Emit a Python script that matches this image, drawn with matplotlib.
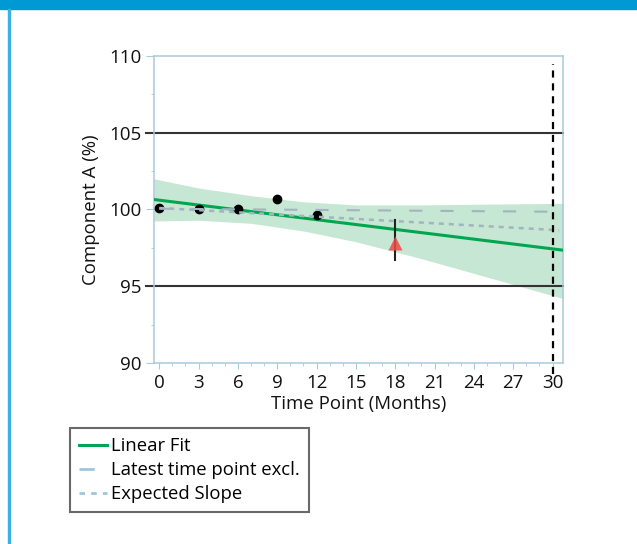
import numpy as np
import matplotlib
matplotlib.use('Agg')
import matplotlib.pyplot as plt
from matplotlib.lines import Line2D
from matplotlib.patches import Rectangle

plt.rcParams['font.family'] = ['Open Sans', 'DejaVu Sans']

# measured results
months = [0, 3, 6, 9, 12]
component_a = [100.1, 100.05, 100.0, 100.7, 99.65]
latest_month = 18
latest_value = 98.0
latest_err = [96.7, 99.3]

# linear fit and its confidence band
fit_x = [-0.4, 30.8]
fit_y = [100.65, 97.35]
band_x = [-0.4, 3, 7, 11, 15, 20, 25, 30.8]
band_hi = [102.0, 101.4, 100.9, 100.5, 100.3, 100.3, 100.35, 100.4]
band_lo = [99.25, 99.3, 99.1, 98.6, 97.9, 96.8, 95.6, 94.2]

# other reference lines
excl_x = [0, 30.8]
excl_y = [100.05, 99.85]
slope_x = [0, 30.5]
slope_y = [100.1, 98.65]
spec_limits = [95, 105]
shelf_life = 30

xticks = [0, 3, 6, 9, 12, 15, 18, 21, 24, 27, 30]
yticks = [90, 95, 100, 105, 110]

green = '#00a650'
band_col = '#c6e7d3'
dash_col = '#a4b3c0'
frame_col = '#a9c9dc'

fig = plt.figure(figsize=(6.37, 5.44), dpi=100)
W, H = 637, 544

# page decoration
fig.patches.append(Rectangle((0, 1 - 9 / H), 1, 9 / H, transform=fig.transFigure,
                             color='#0099d3', zorder=0))
fig.patches.append(Rectangle((8 / W, 0), 2 / W, 1 - 9 / H, transform=fig.transFigure,
                             color='#3db0e3', zorder=0))

ax = fig.add_axes([154 / W, 1 - 363 / H, (563 - 154) / W, (363 - 56) / H])

ax.fill_between(band_x, band_lo, band_hi, color=band_col, lw=0, zorder=1)
ax.plot(fit_x, fit_y, color=green, lw=2.2, zorder=3)
ax.plot(months, component_a, 'o', color='black', ms=6, zorder=4)
ax.plot(excl_x, excl_y, color=dash_col, lw=1.5, dashes=(6.3, 8.7), zorder=5)
ax.plot(slope_x, slope_y, color=dash_col, lw=1.8, dashes=(2, 2), zorder=5)

ax.plot([latest_month, latest_month], latest_err, color='#222222', lw=1.5, zorder=4)
ax.plot(latest_month, latest_value - 0.15, '^', color='#ee4a45', ms=10, alpha=0.85,
        mec='none', zorder=5)

for lim in spec_limits:
    ax.plot([-1.0, 30.8], [lim, lim], color='#333333', lw=1.5, clip_on=False, zorder=2)
ax.plot([shelf_life, shelf_life], [89.3, 109.5], color='black', lw=1.6,
        dashes=(3.2, 2.6), clip_on=False, zorder=6)

ax.set_xlim(-0.4, 30.8)
ax.set_ylim(90, 110)
ax.set_xticks(xticks)
ax.set_xticks(np.arange(0, 31, 1), minor=True)
ax.set_yticks(yticks)
ax.set_yticks([92.5, 97.5, 102.5, 107.5], minor=True)

for s in ax.spines.values():
    s.set_color(frame_col)
    s.set_linewidth(1.1)

ax.tick_params(axis='both', which='major', direction='out', color=frame_col,
               labelsize=13.5, labelcolor='#111111')
ax.tick_params(axis='x', which='major', length=4, pad=4)
ax.tick_params(axis='y', which='major', length=6, pad=3)
ax.tick_params(axis='both', which='minor', direction='out', color=frame_col, length=2.5)

ax.set_xlabel('Time Point (Months)', fontsize=13.4, labelpad=2, color='#111111')
ax.set_ylabel('Component A (%)', fontsize=13.4, labelpad=7, color='#111111')

handles = [
    Line2D([], [], color=green, lw=2.2),
    Line2D([], [], color='#9ec6dc', lw=2, dashes=(5.5, 10)),
    Line2D([], [], color='#9ec6dc', lw=2, dashes=(2, 2.2)),
]
labels = ['Linear Fit', 'Latest time point excl.', 'Expected Slope']
leg = fig.legend(handles, labels, loc='upper left',
                 bbox_to_anchor=(70 / W, 1 - 428 / H), fontsize=13.3,
                 handlelength=1.5, handletextpad=0.2, labelspacing=0.32,
                 borderpad=0.5, borderaxespad=0, fancybox=False,
                 frameon=True, edgecolor='#444444')
leg.get_frame().set_linewidth(1.5)

fig.savefig('out.png', dpi=100)
